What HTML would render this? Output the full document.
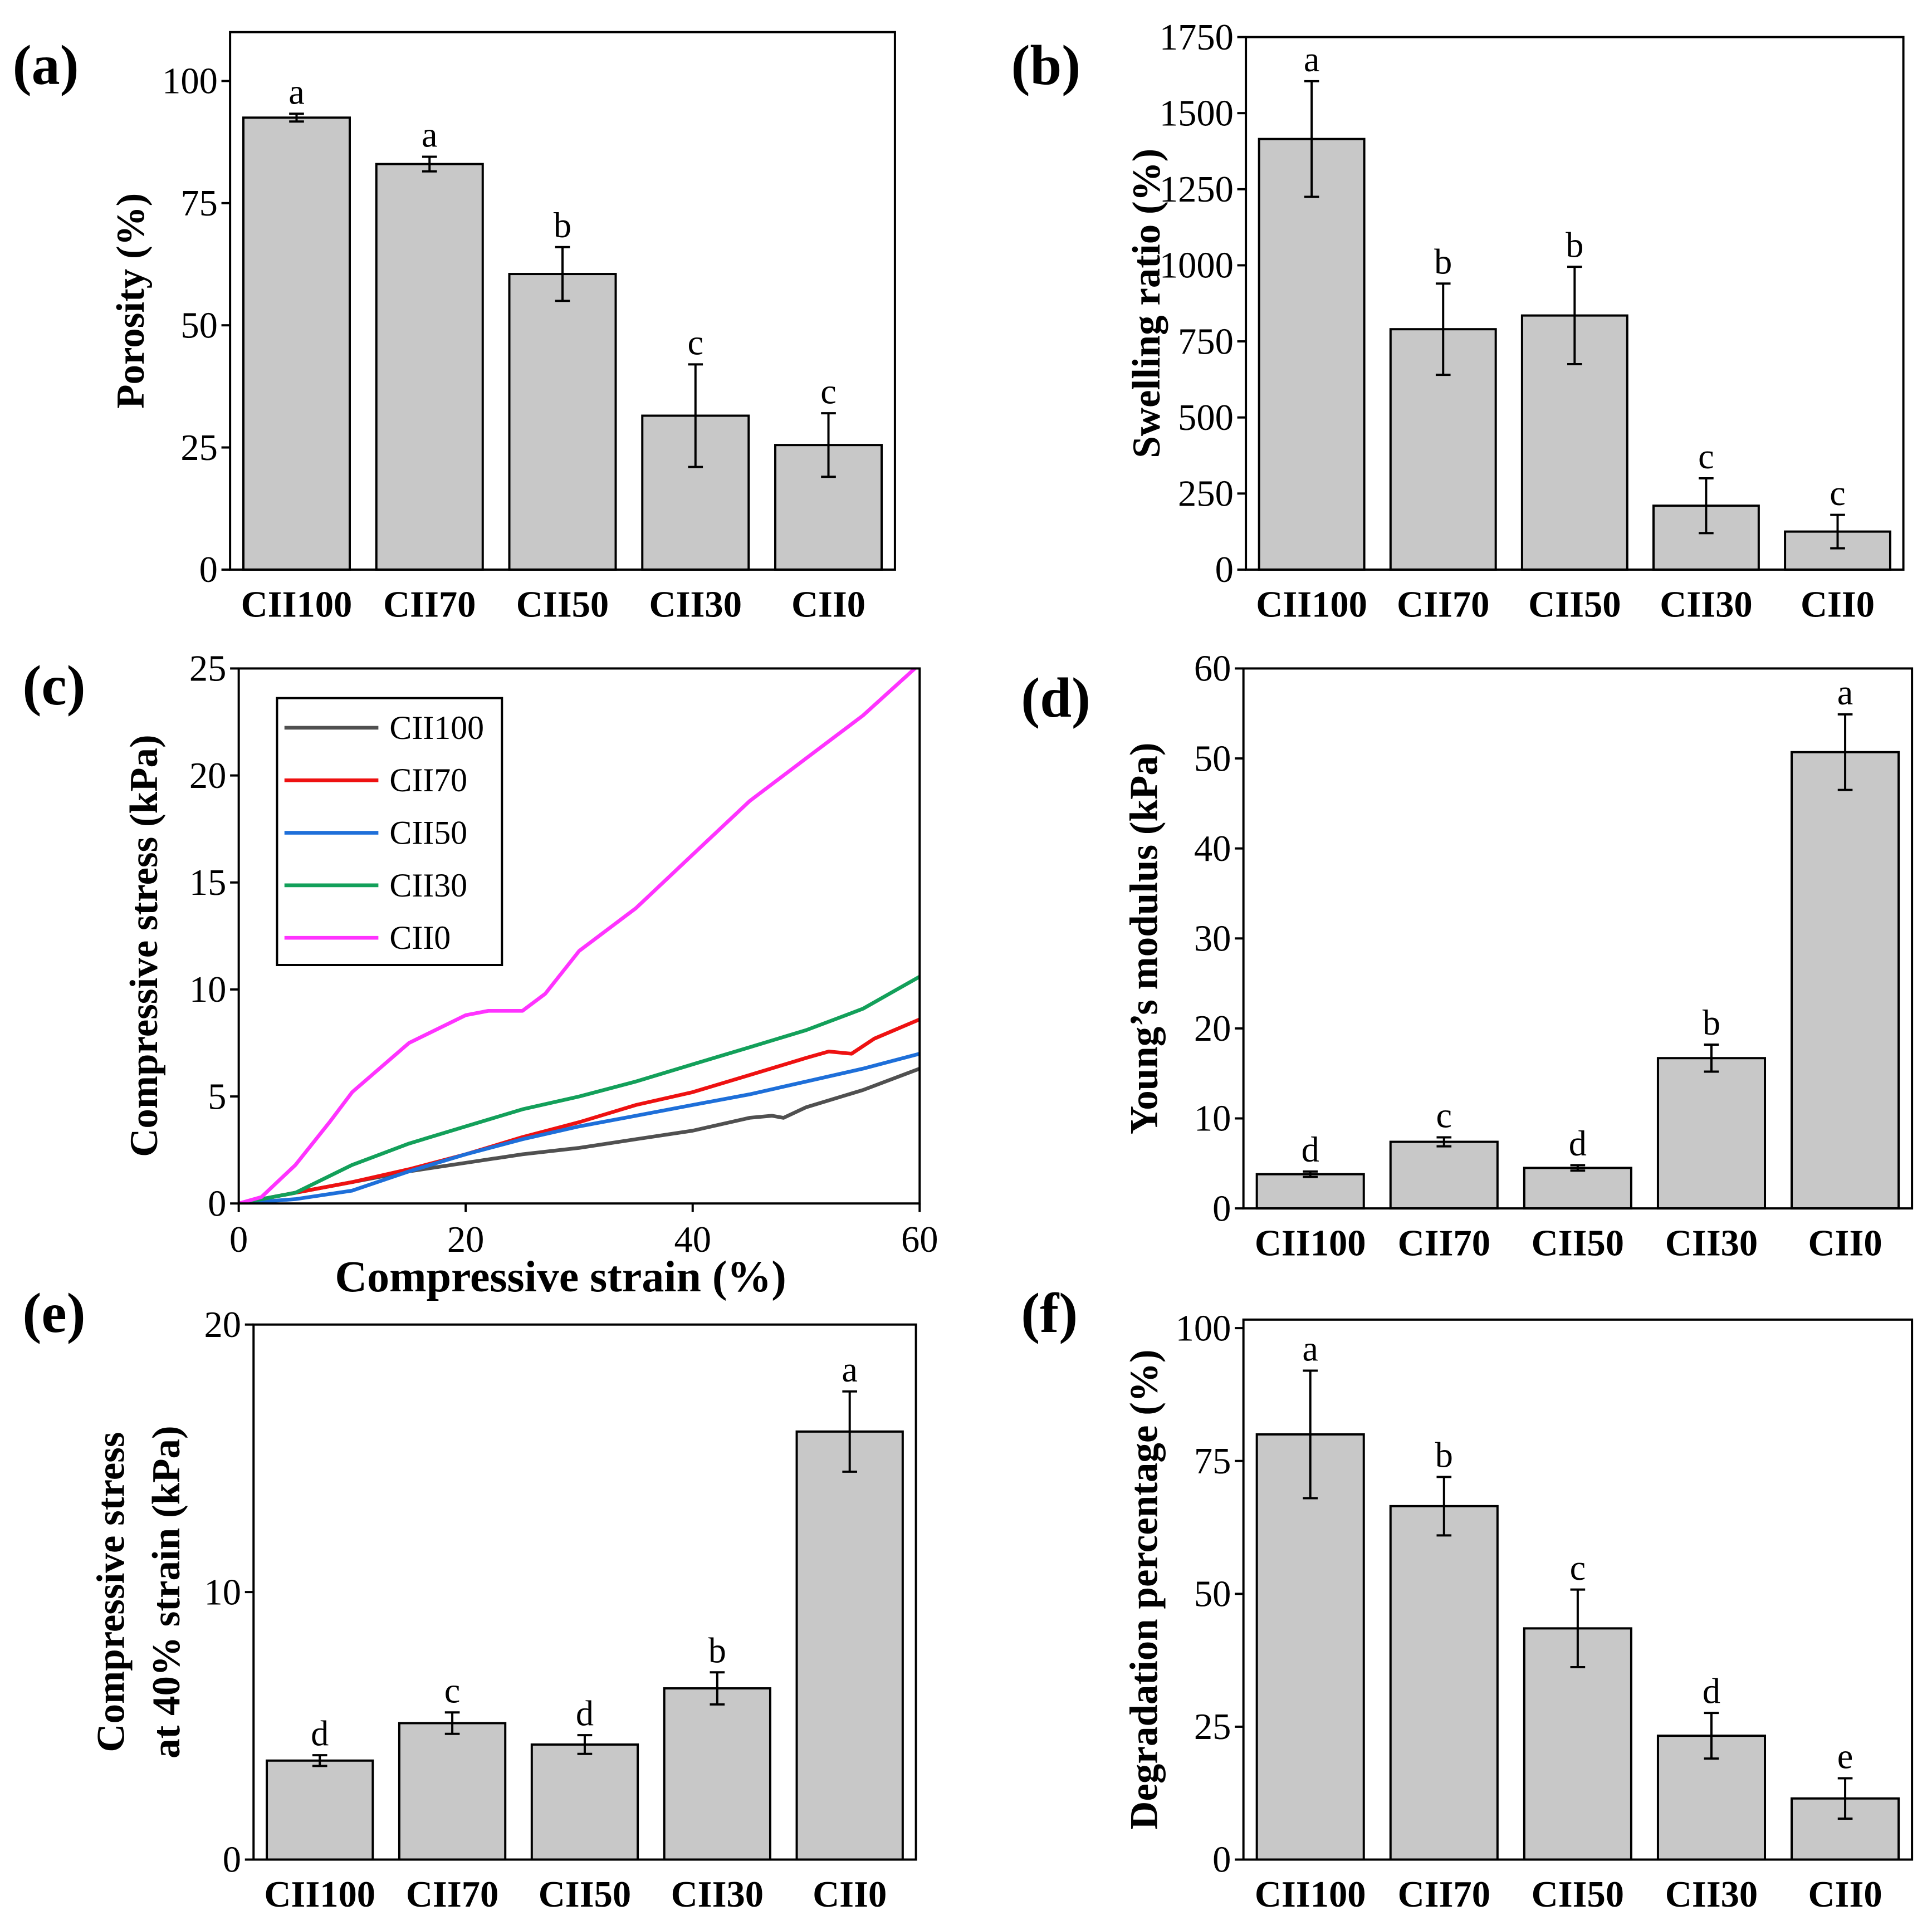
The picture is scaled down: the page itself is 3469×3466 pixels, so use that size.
<!DOCTYPE html>
<html><head><meta charset="utf-8"><style>
html,body{margin:0;padding:0;background:#fff;}
svg{display:block;font-family:"Liberation Serif",serif;}
</style></head><body>
<svg id="fig" width="3469" height="3466" viewBox="0 0 1563 1562" xmlns="http://www.w3.org/2000/svg"></svg>
<script>
// ---- data ----
const cats = ["CII100","CII70","CII50","CII30","CII0"];
const aVals = [92.5,83,60.5,31.5,25.5];
const aErr = [0.8,1.5,5.5,10.5,6.5];
const aSig = ["a","a","b","c","c"];
const aTicks = [0,25,50,75,100];
const bVals = [1415,790,835,210,125];
const bErr = [190,150,160,90,55];
const bSig = ["a","b","b","c","c"];
const bTicks = [0,250,500,750,1000,1250,1500,1750];
const dVals = [3.8,7.4,4.5,16.7,50.7];
const dErr = [0.3,0.5,0.3,1.5,4.2];
const dSig = ["d","c","d","b","a"];
const dTicks = [0,10,20,30,40,50,60];
const eVals = [3.7,5.1,4.3,6.4,16];
const eErr = [0.2,0.4,0.35,0.6,1.5];
const eSig = ["d","c","d","b","a"];
const eTicks = [0,10,20];
const fVals = [80,66.5,43.5,23.3,11.5];
const fErr = [12,5.5,7.3,4.3,3.8];
const fSig = ["a","b","c","d","e"];
const fTicks = [0,25,50,75,100];
const cXTicks = [0,20,40,60];
const cYTicks = [0,5,10,15,20,25];
const cSeriesNames = ["CII100","CII70","CII50","CII30","CII0"];
const cColors = ["#505050","#ee1111","#1e6fd9","#13a05a","#ff33ff"];
const cX0 = [0,5,10,15,20,25,30,35,40,45,47,48,50,55,60];
const cY0 = [0,0.5,1,1.5,1.9,2.3,2.6,3,3.4,4,4.1,4,4.5,5.3,6.3];
const cX1 = [0,5,10,15,20,25,30,35,40,45,50,52,54,56,60];
const cY1 = [0,0.5,1,1.6,2.3,3.1,3.8,4.6,5.2,6,6.8,7.1,7,7.7,8.6];
const cX2 = [0,5,10,15,20,25,30,35,40,45,50,55,60];
const cY2 = [0,0.2,0.6,1.5,2.3,3,3.6,4.1,4.6,5.1,5.7,6.3,7];
const cX3 = [0,5,10,15,20,25,30,35,40,45,50,55,60];
const cY3 = [0,0.5,1.8,2.8,3.6,4.4,5,5.7,6.5,7.3,8.1,9.1,10.6];
const cX4 = [0,2,5,8,10,15,20,22,25,27,30,35,40,45,50,55,60];
const cY4 = [0,0.3,1.8,3.8,5.2,7.5,8.8,9,9,9.8,11.8,13.8,16.3,18.8,20.8,22.8,25.2];

const NS="http://www.w3.org/2000/svg";
const svg=document.getElementById('fig');
function mk(tag,attrs,parent,txt){const e=document.createElementNS(NS,tag);for(const k in attrs)e.setAttribute(k,attrs[k]);if(txt!==undefined)e.textContent=txt;(parent||svg).appendChild(e);return e;}

function barChart(id,box,ymax,vals,err,sig,ticks,ytitle,letter,ytitle2){
  const g=mk('g',{});
  
  
  const [x0,y0,x1,y1]=box;
  const ys=v=>y1-(v/ymax)*(y1-y0);
  const bw=(x1-x0)/cats.length;
  const xs=i=>x0+bw*(i+0.5);
  vals.forEach((v,i)=>{
    const b=mk('rect',{x:xs(i)-bw*0.4,y:ys(v),width:bw*0.8,height:y1-ys(v),fill:'#c8c8c8',stroke:'#000','stroke-width':1.8},g);
    
    
    const t=ys(v+err[i]),bo=ys(v-err[i]);
    const eb=mk('path',{d:`M${xs(i)},${t}V${bo}M${xs(i)-6},${t}H${xs(i)+6}M${xs(i)-6},${bo}H${xs(i)+6}`,stroke:'#000','stroke-width':1.8,fill:'none'},g);
    
    
    const s=mk('text',{x:xs(i),y:t-8,'text-anchor':'middle','font-size':29},g,sig[i]);
    
    
    const c=mk('text',{x:xs(i),y:y1+38,'text-anchor':'middle','font-size':30,'font-weight':'bold'},g,cats[i]);
    
    
  });
  mk('rect',{x:x0,y:y0,width:x1-x0,height:y1-y0,fill:'none',stroke:'#000','stroke-width':1.8},g);
  ticks.forEach(t=>{
    const y=ys(t);
    mk('line',{x1:x0-7,x2:x0,y1:y,y2:y,stroke:'#000','stroke-width':1.8},g);
    const l=mk('text',{x:x0-10,y:y+10,'text-anchor':'end','font-size':30},g,t);
    
    
  });
  const cx=x0-(ytitle2?105:70),cy=(y0+y1)/2;
  const yt=mk('text',{x:0,y:0,transform:`translate(${cx},${cy}) rotate(-90)`,'text-anchor':'middle','font-size':32,'font-weight':'bold'},g,ytitle);
  
  
  if(ytitle2){const y2=mk('text',{x:0,y:0,transform:`translate(${cx+45},${cy}) rotate(-90)`,'text-anchor':'middle','font-size':32,'font-weight':'bold'},g,ytitle2);
    
    }
  const pl=mk('text',{x:letter[1],y:letter[2],'font-size':46,'font-weight':'bold'},g,letter[0]);
  
  
}
barChart('panel-a-porosity',[186,26,724,461],110,aVals,aErr,aSig,aTicks,'Porosity (%)',['(a)',10,68]);
barChart('panel-b-swelling',[1008,30,1540,461],1750,bVals,bErr,bSig,bTicks,'Swelling ratio (%)',['(b)',818,68]);
barChart('panel-d-modulus',[1006,541,1547,978],60,dVals,dErr,dSig,dTicks,'Young\u2019s modulus (kPa)',['(d)',826,580]);
barChart('panel-e-stress40',[205,1072,741,1505],20,eVals,eErr,eSig,eTicks,'Compressive stress',['(e)',18,1078],'at 40% strain (kPa)');
barChart('panel-f-degradation',[1006,1068,1547,1505],101.6,fVals,fErr,fSig,fTicks,'Degradation percentage (%)',['(f)',826,1078]);

// ---- panel c line chart ----
(function(){
  const g=mk('g',{});
  
  
  const x0=193,y0=541,x1=744,y1=974;
  const xs=v=>x0+v/60*(x1-x0), ys=v=>y1-v/25*(y1-y0);
  const Xs=[cX0,cX1,cX2,cX3,cX4],Ys=[cY0,cY1,cY2,cY3,cY4];
  mk('clipPath',{id:'cclip'},g);
  document.getElementById('cclip').appendChild(document.createElementNS(NS,'rect'));
  const cr=document.querySelector('#cclip rect');cr.setAttribute('x',x0);cr.setAttribute('y',y0);cr.setAttribute('width',x1-x0);cr.setAttribute('height',y1-y0);
  Xs.forEach((xa,k)=>{
    const d=xa.map((x,i)=>(i?'L':'M')+xs(x).toFixed(1)+','+ys(Ys[k][i]).toFixed(1)).join('');
    const p=mk('path',{d,stroke:cColors[k],'stroke-width':3,fill:'none','stroke-linejoin':'round','clip-path':'url(#cclip)'},g);
    
    
  });
  mk('rect',{x:x0,y:y0,width:x1-x0,height:y1-y0,fill:'none',stroke:'#000','stroke-width':1.8},g);
  cXTicks.forEach(t=>{
    mk('line',{x1:xs(t),x2:xs(t),y1:y1,y2:y1+7,stroke:'#000','stroke-width':1.8},g);
    const l=mk('text',{x:xs(t),y:y1+39,'text-anchor':'middle','font-size':30},g,t);
    
    
  });
  cYTicks.forEach(t=>{
    mk('line',{x1:x0-7,x2:x0,y1:ys(t),y2:ys(t),stroke:'#000','stroke-width':1.8},g);
    const l=mk('text',{x:x0-10,y:ys(t)+10,'text-anchor':'end','font-size':30},g,t);
    
    
  });
  const xt=mk('text',{x:(x0+x1)/2-15,y:1045,'text-anchor':'middle','font-size':36,'font-weight':'bold'},g,'Compressive strain (%)');
  
  
  const yt=mk('text',{x:0,y:0,transform:`translate(127,${(y0+y1)/2+8}) rotate(-90)`,'text-anchor':'middle','font-size':32,'font-weight':'bold'},g,'Compressive stress (kPa)');
  
  
  const lg=mk('g',{},g);
  
  
  mk('rect',{x:224,y:565,width:182,height:216,fill:'#fff',stroke:'#000','stroke-width':1.8},lg);
  cSeriesNames.forEach((n,k)=>{
    const y=589+k*42.5;
    const e=mk('g',{},lg);
    
    
    mk('line',{x1:230,x2:306,y1:y,y2:y,stroke:cColors[k],'stroke-width':3},e);
    mk('text',{x:315,y:y+9,'font-size':27},e,n);
  });
  const pl=mk('text',{x:18,y:570,'font-size':46,'font-weight':'bold'},g,'(c)');
  
  
})();
</script>
</body></html>
